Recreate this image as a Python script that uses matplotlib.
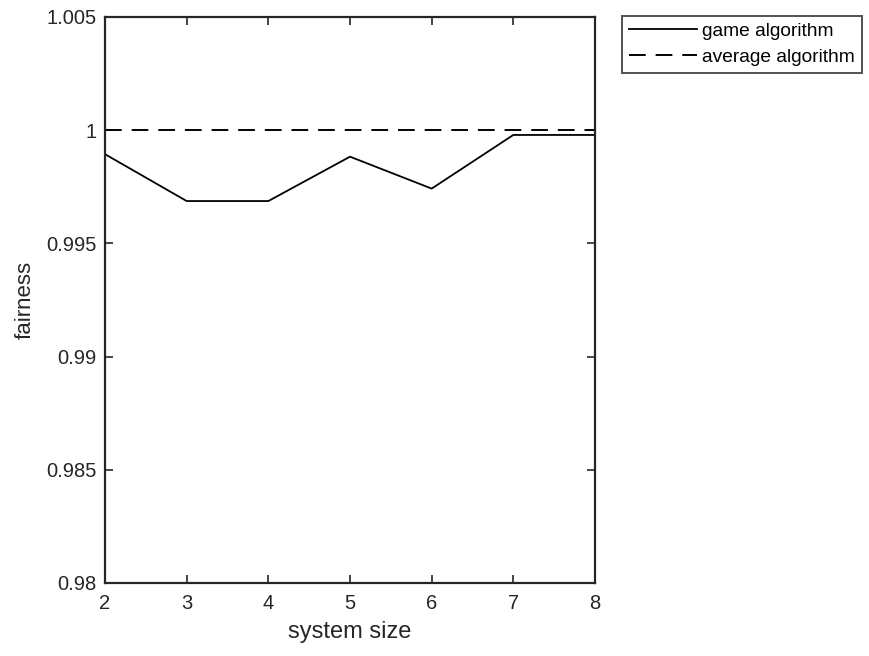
import matplotlib
matplotlib.use('Agg')
import matplotlib.pyplot as plt

plt.rcParams['font.family'] = ['Liberation Sans', 'DejaVu Sans']

# data
system_size = [2, 3, 4, 5, 6, 7, 8]
game_fairness = [0.99894, 0.99687, 0.99687, 0.99883, 0.99742, 0.99979, 0.99979]
average_fairness = [1.0, 1.0, 1.0, 1.0, 1.0, 1.0, 1.0]
yticks = [0.98, 0.985, 0.99, 0.995, 1.0, 1.005]
ytick_labels = ['0.98', '0.985', '0.99', '0.995', '1', '1.005']

fig = plt.figure(figsize=(8.7, 6.56), dpi=100)
ax = fig.add_axes([0.1207, 0.1113, 0.5632, 0.8628])

ax.plot(system_size, game_fairness, '-', color='black', lw=1.3, label='game algorithm')
ax.plot(system_size, average_fairness, '--', color='black', lw=1.4,
        dashes=(8.6, 5.1), label='average algorithm')

ax.set_xlim(2, 8)
ax.set_ylim(0.98, 1.005)
ax.set_xticks(system_size)
ax.set_yticks(yticks)
ax.set_yticklabels(ytick_labels)
ax.tick_params(direction='in', top=True, right=True, labelsize=14.5,
               length=6, width=1.2, colors='#262626')
ax.tick_params(axis='x', pad=8)
ax.tick_params(axis='y', pad=6)
for s in ax.spines.values():
    s.set_linewidth(1.6)
    s.set_color('#262626')

ax.set_xlabel('system size', fontsize=17, color='#262626', labelpad=6)
ax.set_ylabel('fairness', fontsize=16, color='#262626', labelpad=8)

leg = ax.legend(loc='upper left', bbox_to_anchor=(622 / 870, 1 - 16 / 656),
                bbox_transform=fig.transFigure, fontsize=13.8, frameon=True,
                fancybox=False, edgecolor='#262626', borderaxespad=0,
                handlelength=3.55, handletextpad=0.3, labelspacing=0.45,
                borderpad=0.35)
leg.get_frame().set_linewidth(1.4)

fig.savefig('out.png', dpi=100)
plt.close(fig)
